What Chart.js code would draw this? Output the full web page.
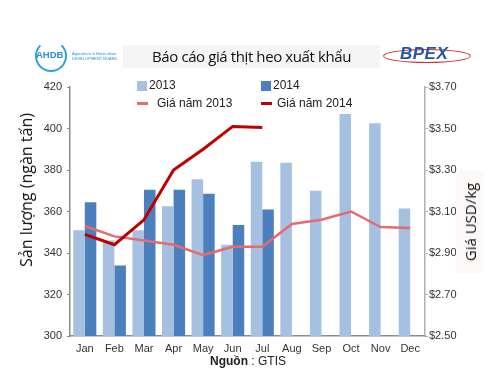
<!DOCTYPE html>
<html><head><meta charset="utf-8">
<script src="https://cdn.jsdelivr.net/npm/chart.js@4"></script>
<style>
html,body{margin:0;padding:0;background:#fff;}
#wrap{position:relative;width:500px;height:391px;overflow:hidden;font-family:"Liberation Sans",Arial,sans-serif;}
canvas{position:absolute;left:0;top:0;}
.abs{position:absolute;white-space:nowrap;}
#band{left:123px;top:45px;width:257px;height:23px;background:#f5f5f5;}
#title{left:123px;top:45px;width:257px;height:23px;line-height:23px;text-align:center;font-family:"Open Sans",sans-serif;font-size:15px;color:#111;letter-spacing:-0.4px;}
#ahdbC{left:35px;top:40px;width:28px;height:28px;border:2px solid #2aa3d6;border-radius:50%;border-top-color:transparent;border-bottom-color:#2aa3d6;}
#ahdbT{left:36px;top:49px;font-size:9.5px;font-weight:bold;color:#2a8fcc;}
#ahdbS{left:72px;top:51px;font-size:4px;color:#2a8fcc;line-height:5px;}
#bpexE{left:383px;top:49px;width:86px;height:12px;border:1.5px solid #d42a2a;border-radius:50%;}
#bpexT{left:400px;top:44px;font-size:17px;font-weight:bold;font-style:italic;color:#2455a8;letter-spacing:0.5px;}
.leg{font-size:12px;color:#222;}
.sq{width:10px;height:10px;}
.ln{height:3px;width:11px;}
#ylt{left:26px;top:190px;transform:translate(-50%,-50%) rotate(-90deg);font-family:"Open Sans",sans-serif;font-size:16px;color:#111;}
#yrt{left:470px;top:222px;transform:translate(-50%,-50%) rotate(-90deg);font-family:"Open Sans",sans-serif;font-size:15px;color:#111;background:#fdf9f8;padding:4px 12px;}
#src{left:210px;top:354px;font-size:12px;color:#222;}
</style></head>
<body><div id="wrap">
<canvas id="c" width="500" height="391"></canvas>
<div class="abs" id="band"></div>
<div class="abs" id="title">Báo cáo giá thịt heo xuất khẩu</div>
<div class="abs" id="ahdbC"></div>
<div class="abs" id="ahdbT">AHDB</div>
<div class="abs" id="ahdbS">Agriculture &amp; Horticulture<br>DEVELOPMENT BOARD</div>
<div class="abs" id="bpexE"></div>
<div class="abs" id="bpexT">BPEX</div>
<div class="abs sq" style="left:137px;top:81px;background:#a6c0e1"></div>
<div class="abs leg" style="left:149px;top:78px">2013</div>
<div class="abs sq" style="left:261px;top:81px;background:#4c7fbe"></div>
<div class="abs leg" style="left:273px;top:78px">2014</div>
<div class="abs ln" style="left:137px;top:102px;background:#e46c6e"></div>
<div class="abs leg" style="left:157px;top:96px">Giá năm 2013</div>
<div class="abs ln" style="left:261px;top:102px;background:#c00000"></div>
<div class="abs leg" style="left:277px;top:96px">Giá năm 2014</div>
<div class="abs" id="ylt">Sản lượng (ngàn tấn)</div>
<div class="abs" id="yrt">Giá USD/kg</div>
<div class="abs" id="src"><b>Nguồn</b> : GTIS</div>
</div>
<script>
const months = ["Jan","Feb","Mar","Apr","May","Jun","Jul","Aug","Sep","Oct","Nov","Dec"];
const vol2013 = [351,346,351,362.5,375.5,344,384,383.5,370,407,402.5,361.5];
const vol2014 = [364.5,334,370.5,370.5,368.5,353.5,361,null,null,null,null,null];
const price2013 = [3.03,2.98,2.96,2.94,2.89,2.93,2.93,3.04,3.06,3.10,3.025,3.02];
const price2014 = [2.99,2.94,3.06,3.30,3.40,3.51,3.505,null,null,null,null,null];
const leftTicks = [300,320,340,360,380,400,420];
const rightTicks = [2.5,2.7,2.9,3.1,3.3,3.5,3.7];

const tickFont = {family:"Liberation Sans, Arial, sans-serif", size:11};
new Chart(document.getElementById('c'), {
  type:'bar',
  data:{
    labels:months,
    datasets:[
      {type:'line',label:'Giá năm 2014',data:price2014,yAxisID:'y1',borderColor:'#c00000',borderWidth:3,pointRadius:0,tension:0,order:0,spanGaps:false},
      {type:'line',label:'Giá năm 2013',data:price2013,yAxisID:'y1',borderColor:'#e46c6e',borderWidth:2.5,pointRadius:0,tension:0,order:1},
      {label:'2013',data:vol2013,backgroundColor:'#a6c0e1',yAxisID:'y',order:2,categoryPercentage:0.78,barPercentage:1.0},
      {label:'2014',data:vol2014,backgroundColor:'#4c7fbe',yAxisID:'y',order:3,categoryPercentage:0.78,barPercentage:1.0}
    ]
  },
  options:{
    responsive:false,animation:false,
    layout:{padding:{top:87,left:0,right:0,bottom:0}},
    plugins:{legend:{display:false},tooltip:{enabled:false}},
    scales:{
      x:{offset:true,grid:{display:false,drawTicks:false},border:{display:true,color:'#8c8c8c',width:1.5},
         ticks:{font:tickFont,color:'#333',padding:6,maxRotation:0,autoSkip:false},
         afterFit(s){s.height=55;}},
      y:{position:'left',min:300,max:420,
         grid:{drawOnChartArea:false,drawTicks:true,tickLength:3,color:'#8c8c8c'},
         border:{display:true,color:'#8c8c8c',width:1.5},
         afterBuildTicks(s){s.ticks=leftTicks.map(v=>({value:v}));},
         ticks:{font:tickFont,color:'#333',padding:5},
         afterFit(s){s.width=70;}},
      y1:{position:'right',min:2.5,max:3.7,
         grid:{drawOnChartArea:false,drawTicks:true,tickLength:3,color:'#b0b0b0'},
         border:{display:true,color:'#b0b0b0',width:1.5},
         afterBuildTicks(s){s.ticks=rightTicks.map(v=>({value:v}));},
         ticks:{font:tickFont,color:'#333',padding:1,callback:v=>'$'+Number(v).toFixed(2)},
         afterFit(s){s.width=75;}}
    }
  }
});
</script>
</body></html>
